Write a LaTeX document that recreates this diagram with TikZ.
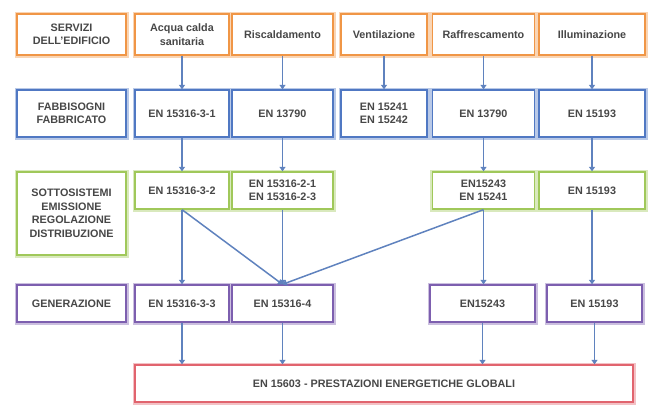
\documentclass[tikz,border=0pt]{standalone}
\usepackage{fontspec}
\setmainfont{Liberation Sans}
\usetikzlibrary{arrows.meta}

\definecolor{arancio}{RGB}{240,150,70}
\definecolor{blu}{RGB}{80,120,195}
\definecolor{verde}{RGB}{160,200,90}
\definecolor{viola}{RGB}{125,95,175}
\definecolor{rosso}{RGB}{225,100,110}
\definecolor{freccia}{RGB}{95,130,190}

\begin{document}
\begin{tikzpicture}[x=1pt, y=-1pt,
		box/.style={draw=#1, line width=1.3pt, fill=white, align=center, inner sep=0pt,
			font=\fontsize{10.8}{13.5}\selectfont\bfseries, text=black!72,
			preaction={draw=#1!40, line width=5pt}},
		sz/.style 2 args={minimum width=#1pt, minimum height=#2pt},
		servizio/.style={box=arancio},
		fabbisogno/.style={box=blu},
		sottosist/.style={box=verde},
		generaz/.style={box=viola},
		totale/.style={box=rosso},
		freccia/.style={draw=freccia, line width=1.5pt, -{Triangle[width=6pt,length=4.5pt]}}]
		\useasboundingbox (0,0) rectangle (648,405);

		% servizi dell'edificio
		\node[servizio, sz={109}{41}] (s0) at (71.5,34.5) {SERVIZI\\DELL'EDIFICIO};
		\node[servizio, sz={94}{41}] (s1) at (182,34.5) {Acqua calda\\sanitaria};
		\node[servizio, sz={101}{41}] (s2) at (282.5,34.5) {Riscaldamento};
		\node[servizio, sz={86}{41}] (s3) at (384,34.5) {Ventilazione};
		\node[servizio, sz={102}{41}] (s4) at (483.5,34.5) {Raffrescamento};
		\node[servizio, sz={106}{41}] (s5) at (592,34.5) {Illuminazione};

		% fabbisogni
		\node[fabbisogno, sz={109}{47}] (f0) at (71.5,113.5) {FABBISOGNI\\FABBRICATO};
		\node[fabbisogno, sz={94}{47}] (f1) at (182,113.5) {EN 15316-3-1};
		\node[fabbisogno, sz={101}{47}] (f2) at (282.5,113.5) {EN 13790};
		\node[fabbisogno, sz={86}{47}] (f3) at (384,113.5) {EN 15241\\EN 15242};
		\node[fabbisogno, sz={102}{47}] (f4) at (483.5,113.5) {EN 13790};
		\node[fabbisogno, sz={106}{47}] (f5) at (592,113.5) {EN 15193};

		% sottosistemi
		\node[sottosist, sz={109}{83}] (g0) at (71.5,213.5) {SOTTOSISTEMI\\EMISSIONE\\REGOLAZIONE\\DISTRIBUZIONE};
		\node[sottosist, sz={94}{37}] (g1) at (182,190.5) {EN 15316-3-2};
		\node[sottosist, sz={101}{37}] (g2) at (282.5,190.5) {EN 15316-2-1\\EN 15316-2-3};
		\node[sottosist, sz={102}{37}] (g4) at (483.5,190.5) {EN15243\\EN 15241};
		\node[sottosist, sz={106}{37}] (g5) at (592,190.5) {EN 15193};

		% generazione
		\node[generaz, sz={109}{37}] (p0) at (71.5,303.5) {GENERAZIONE};
		\node[generaz, sz={94}{37}] (p1) at (182,303.5) {EN 15316-3-3};
		\node[generaz, sz={101}{37}] (p2) at (282.5,303.5) {EN 15316-4};
		\node[generaz, sz={105}{37}] (p4) at (482.5,303.5) {EN15243};
		\node[generaz, sz={95}{37}] (p5) at (594.5,303.5) {EN 15193};

		\node[totale, sz={498}{37}] (t) at (384,383.5) {EN 15603 - PRESTAZIONI ENERGETICHE GLOBALI};

		\draw[freccia] (s1) -- (f1);
		\draw[freccia] (s2) -- (f2);
		\draw[freccia] (s3) -- (f3);
		\draw[freccia] (s4) -- (f4);
		\draw[freccia] (s5) -- (f5);

		\draw[freccia] (f1) -- (g1);
		\draw[freccia] (f2) -- (g2);
		\draw[freccia] (f4) -- (g4);
		\draw[freccia] (f5) -- (g5);

		\draw[freccia] (g1) -- (p1);
		\draw[freccia] (g1.south) -- (p2.north);
		\draw[freccia] (g2) -- (p2);
		\draw[freccia] (g4.south) -- (p2.north);
		\draw[freccia] (g4.south) -- (g4.south |- p4.north);
		\draw[freccia] (g5.south) -- (g5.south |- p5.north);

		\draw[freccia] (p1.south) -- (p1.south |- t.north);
		\draw[freccia] (p2.south) -- (p2.south |- t.north);
		\draw[freccia] (p4.south) -- (p4.south |- t.north);
		\draw[freccia] (p5.south) -- (p5.south |- t.north);
	\end{tikzpicture}
\end{document}
